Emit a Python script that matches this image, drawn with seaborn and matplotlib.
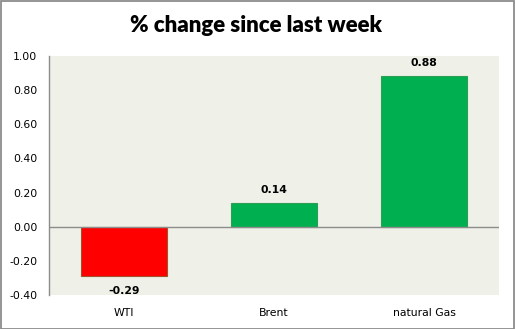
import matplotlib
matplotlib.use("Agg")
import matplotlib.pyplot as plt
import seaborn as sns
import pandas as pd
from matplotlib.patches import Rectangle

categories = ["WTI", "Brent", "natural Gas"]
changes = [-0.29, 0.14, 0.88]
bar_colors = ["#FF0000", "#00B050", "#00B050"]
edge_colors = ["#A0522D", "#2E9E55", "#2E9E55"]
y_ticks = [-0.40, -0.20, 0.00, 0.20, 0.40, 0.60, 0.80, 1.00]
title = "% change since last week"

df = pd.DataFrame({"market": categories, "change": changes})

sns.set_theme(style="white")
plt.rcParams["font.family"] = ["DejaVu Sans"]
plt.rcParams["text.color"] = "#000000"

W, H = 515, 329
fig = plt.figure(figsize=(W / 100, H / 100), dpi=100)
fig.patch.set_facecolor("white")

# outer chart border
fig.add_artist(Rectangle((0.5 / W, 0.5 / H), (W - 1.5) / W, (H - 1.5) / H,
                         transform=fig.transFigure, fill=False,
                         edgecolor="#8C8C8C", linewidth=1.3))

ax = fig.add_axes([49 / W, (H - 295) / H, 450 / W, 239 / H])
ax.set_facecolor("#EFF0E8")

sns.barplot(data=df, x="market", y="change", hue="market",
            palette=dict(zip(categories, bar_colors)), order=categories,
            width=0.57, legend=False, ax=ax, saturation=1)

for patch, ec in zip(ax.patches, edge_colors):
    patch.set_edgecolor(ec)
    patch.set_linewidth(0.8)

ax.set_ylim(-0.40, 1.00)
ax.set_xlim(-0.5, len(categories) - 0.5)
ax.set_yticks(y_ticks)
ax.set_yticklabels([f"{t:.2f}" for t in y_ticks])
ax.axhline(0, color="#8C8C8C", linewidth=1.0, zorder=3)

for s in ["top", "right", "bottom"]:
    ax.spines[s].set_visible(False)
ax.spines["left"].set_color("#8C8C8C")
ax.spines["left"].set_linewidth(1.0)

ax.tick_params(axis="y", length=0, pad=8.5, labelsize=7.8, labelcolor="#000000")
ax.tick_params(axis="x", length=0, pad=9, labelsize=7.8, labelcolor="#000000")
ax.set_xlabel("")
ax.set_ylabel("")

for i, v in enumerate(changes):
    off = 9.5 if v >= 0 else -11
    ax.annotate(f"{v:.2f}", xy=(i, v), xytext=(0, off), textcoords="offset points",
                ha="center", va="center", fontsize=7.8, fontweight="bold",
                color="#000000")

fig.text(0.497, 1 - 26 / H, title, ha="center", va="center", color="#000000",
         fontsize=16, fontweight="heavy", family=["Lato", "DejaVu Sans"])

fig.savefig("out.png", dpi=100)
